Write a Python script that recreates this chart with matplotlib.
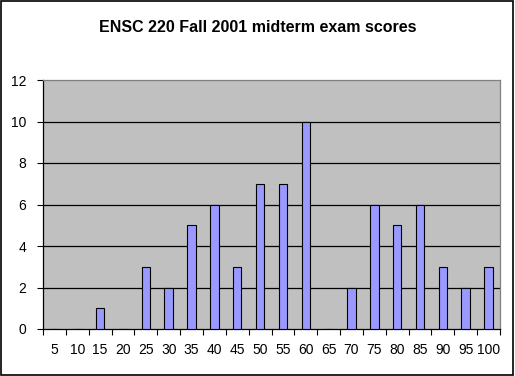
import matplotlib
matplotlib.use("Agg")
import matplotlib.pyplot as plt
from matplotlib.patches import Rectangle

# exam score bins and how many students landed in each
scores = [5, 10, 15, 20, 25, 30, 35, 40, 45, 50, 55, 60, 65, 70, 75, 80, 85, 90, 95, 100]
counts = [0, 0, 1, 0, 3, 2, 5, 6, 3, 7, 7, 10, 0, 2, 6, 5, 6, 3, 2, 3]
y_ticks = [0, 2, 4, 6, 8, 10, 12]

plt.rcParams['font.family'] = ['Liberation Sans', 'DejaVu Sans']

fig = plt.figure(figsize=(5.15, 3.76), dpi=100)
ax = fig.add_axes([43 / 515, 1 - 329 / 376, 457 / 515, 249 / 376])
ax.set_facecolor('#c0c0c0')

pos = list(range(len(scores)))
ax.bar(pos, counts, width=0.37, color='#9999ff', edgecolor='black', linewidth=0.8, zorder=3)

ax.set_xlim(-0.5, len(scores) - 0.5)
ax.set_ylim(0, 12)
ax.set_yticks(y_ticks)
ax.set_yticklabels([str(v) for v in y_ticks], fontsize=10)

# ticks sit between categories, labels centred under each bar
ax.set_xticks([p - 0.5 for p in pos] + [len(scores) - 0.5])
ax.set_xticklabels([])
ax.set_xticks(pos, minor=True)
ax.set_xticklabels([str(s) for s in scores], minor=True, fontsize=10)
ax.tick_params(axis='x', which='minor', length=0, pad=10)
ax.tick_params(axis='x', which='major', length=4, width=0.8, direction='out')
ax.tick_params(axis='y', length=4, width=0.8, direction='out', pad=8)

for v in y_ticks[1:-1]:
    ax.axhline(v, color='black', linewidth=0.9, zorder=1)

ax.spines['top'].set_color('#808080')
ax.spines['right'].set_color('#808080')
ax.spines['left'].set_color('black')
ax.spines['bottom'].set_color('black')
for s in ax.spines.values():
    s.set_linewidth(0.9)

fig.text(0.5, 1 - 27 / 376, 'ENSC 220 Fall 2001 midterm exam scores',
         ha='center', va='center', fontsize=11.5, fontweight='bold')

fig.patches.append(Rectangle((0.002, 0.003), 0.994, 0.994, transform=fig.transFigure,
                             fill=False, edgecolor='black', linewidth=1.2))

fig.savefig('out.png', dpi=100)
